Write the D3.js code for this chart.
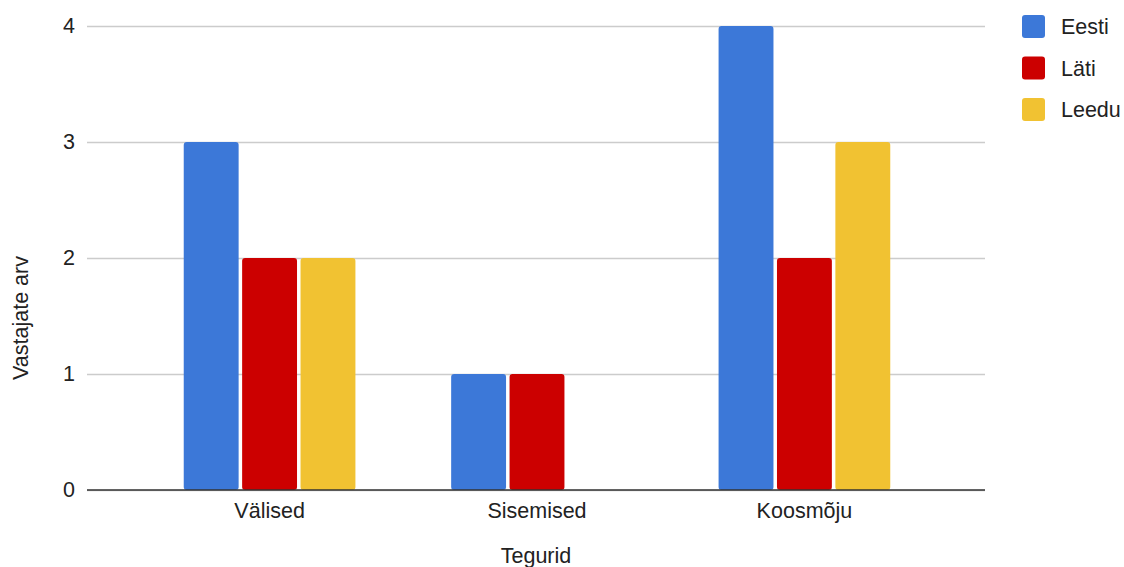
<!DOCTYPE html>
<html>
<head>
<meta charset="utf-8">
<script src="https://cdn.jsdelivr.net/npm/d3@7"></script>
<style>
  html, body { margin: 0; padding: 0; background: #fff; }
  svg { display: block; font-family: Arial, "Liberation Sans", sans-serif; }
</style>
</head>
<body>
<svg id="chart" width="1124" height="567"></svg>
<script>
const categories = ["Välised", "Sisemised", "Koosmõju"];
const seriesNames = ["Eesti", "Läti", "Leedu"];
const eesti = [3, 1, 4];
const lati = [2, 1, 2];
const leedu = [2, 0, 3];
const yTicks = [0, 1, 2, 3, 4];
const colors = ["#3c78d8", "#cc0000", "#f1c232"];
const xTitle = "Tegurid";
const yTitle = "Vastajate arv";

(function () {
const seriesValues = [eesti, lati, leedu];
const rows = categories.map((c, i) => ({
  cat: c,
  vals: seriesNames.map((s, j) => ({ s, v: seriesValues[j][i], color: colors[j] }))
}));

const svg = d3.select("#chart");
const mLeft = 87, mRight = 985, mTop = 26, mBottom = 490;
const fontSize = 21.5;

const x0 = d3.scaleBand().domain(categories).range([mLeft + 1, mRight + 1]).padding(0.358);
const x1 = d3.scaleBand().domain(seriesNames).range([0, x0.bandwidth()]).paddingInner(0.06).paddingOuter(0);
const y = d3.scaleLinear().domain([0, 4]).range([mBottom, mTop]);

// gridlines
const yAxis = d3.axisLeft(y).tickValues(yTicks).tickSize(-(mRight - mLeft)).tickPadding(12).tickFormat(d3.format("d"));
const gy = svg.append("g").attr("transform", `translate(${mLeft},0)`).call(yAxis);
gy.select(".domain").remove();
gy.selectAll(".tick line").attr("stroke", "#cccccc").attr("stroke-width", 1.3);
gy.selectAll(".tick text").attr("font-size", fontSize).attr("fill", "#222").attr("font-family", "Arial, 'Liberation Sans', sans-serif");

// bars
const groups = svg.append("g").selectAll("g").data(rows).join("g")
  .attr("transform", d => `translate(${x0(d.cat)},0)`);
groups.selectAll("rect").data(d => d.vals.filter(v => v.v > 0)).join("rect")
  .attr("x", d => x1(d.s))
  .attr("y", d => y(d.v))
  .attr("width", x1.bandwidth())
  .attr("height", d => y(0) - y(d.v))
  .attr("rx", 3)
  .attr("fill", d => d.color);

// baseline
const xAxis = d3.axisBottom(x0).tickSize(0).tickPadding(13);
const gx = svg.append("g").attr("transform", `translate(0,${mBottom})`).call(xAxis);
gx.select(".domain").attr("d", `M${mLeft},0H${mRight}`).attr("stroke", "#333").attr("stroke-width", 1.5);
gx.selectAll(".tick text").attr("font-size", fontSize).attr("fill", "#222").attr("font-family", "Arial, 'Liberation Sans', sans-serif");

// axis titles
svg.append("text").attr("x", (mLeft + mRight) / 2).attr("y", 563)
  .attr("text-anchor", "middle").attr("font-size", fontSize).attr("fill", "#222").text(xTitle);
svg.append("text").attr("transform", `translate(28,318) rotate(-90)`)
  .attr("text-anchor", "middle").attr("font-size", fontSize).attr("fill", "#222").text(yTitle);

// legend
const legend = svg.append("g").selectAll("g").data(seriesNames).join("g")
  .attr("transform", (d, i) => `translate(1022,${15 + i * 41.5})`);
legend.append("rect").attr("width", 23).attr("height", 23).attr("rx", 3)
  .attr("fill", (d, i) => colors[i]);
legend.append("text").attr("x", 39).attr("y", 11.5).attr("dy", "0.35em")
  .attr("font-size", fontSize).attr("fill", "#222").text(d => d);
})();
</script>
</body>
</html>
